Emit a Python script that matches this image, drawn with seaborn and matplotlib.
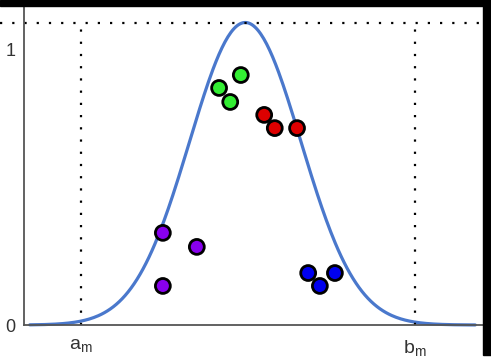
import numpy as np
import matplotlib
matplotlib.use("Agg")
import matplotlib.pyplot as plt
import seaborn as sns
import pandas as pd
from matplotlib.patches import Rectangle

# membership curve and bounds
mu = 4.95
sigma = 1.0
peak = 1.1
a_m = 2.0
b_m = 8.0
curve_x = np.linspace(1.08, 9.08, 300)
curve_y = peak * np.exp(-(curve_x - mu) ** 2 / (2 * sigma ** 2))

# sample points, grouped by colour
green_x = [4.48, 4.68, 4.87]
green_y = [0.862, 0.811, 0.909]
red_x = [5.29, 5.48, 5.88]
red_y = [0.764, 0.716, 0.716]
purple_x = [3.47, 3.47, 4.08]
purple_y = [0.335, 0.142, 0.284]
blue_x = [6.08, 6.29, 6.56]
blue_y = [0.189, 0.142, 0.189]

groups = ["green", "red", "purple", "blue"]
colours = {"green": "#33ee33", "red": "#dd0000", "purple": "#8800ee", "blue": "#0000ee"}

pts = pd.DataFrame({
    "x": green_x + red_x + purple_x + blue_x,
    "y": green_y + red_y + purple_y + blue_y,
    "g": sum([[g] * 3 for g in groups], []),
})

sns.set_style("white")
plt.rcParams["font.family"] = ["Liberation Sans", "DejaVu Sans"]
plt.rcParams["mathtext.fontset"] = "custom"
plt.rcParams["mathtext.rm"] = "Liberation Sans"

fig = plt.figure(figsize=(4.91, 3.63), dpi=100)
ax = fig.add_axes([24 / 491, 38 / 363, 459 / 491, 319 / 363])

sns.lineplot(x=curve_x, y=curve_y, ax=ax, color="#4a78cc", linewidth=2.3, clip_on=False)

dots = (0, (1, 4.5))
ax.axhline(peak, xmin=-24 / 459, xmax=1.0, color="black", linewidth=1.6,
           linestyle=dots, clip_on=False)
ax.vlines([a_m, b_m], 0, 1.08, color="black", linewidth=1.6, linestyle=dots)

sns.scatterplot(data=pts, x="x", y="y", hue="g", palette=colours, ax=ax,
                s=115, edgecolor="black", linewidth=2, legend=False, zorder=5,
                marker="o")

ax.set_xlim(0.976, 9.22)
ax.set_ylim(0, 1.16)
ax.set_xticks([a_m, b_m])
ax.set_xticklabels([r"$\mathregular{a_m}$", r"$\mathregular{b_m}$"], fontsize=14)
ax.set_yticks([0, 1])
ax.set_yticklabels(["0", "1"], fontsize=13)
ax.tick_params(axis="x", length=0, pad=9, colors="#333333")
ax.tick_params(axis="y", length=0, pad=6, colors="#333333")
ax.set_xlabel("")
ax.set_ylabel("")

for side in ["top", "right"]:
    ax.spines[side].set_visible(False)
for side in ["left", "bottom"]:
    ax.spines[side].set_color("#555555")
    ax.spines[side].set_linewidth(1.3)

# frame shadow on top and right
fig.add_artist(Rectangle((0, 357 / 363), 1, 6 / 363, transform=fig.transFigure,
                         color="black", zorder=10))
fig.add_artist(Rectangle((483 / 491, 8 / 363), 8 / 491, 355 / 363,
                         transform=fig.transFigure, color="black", zorder=10))

fig.savefig("out.png", dpi=100)
